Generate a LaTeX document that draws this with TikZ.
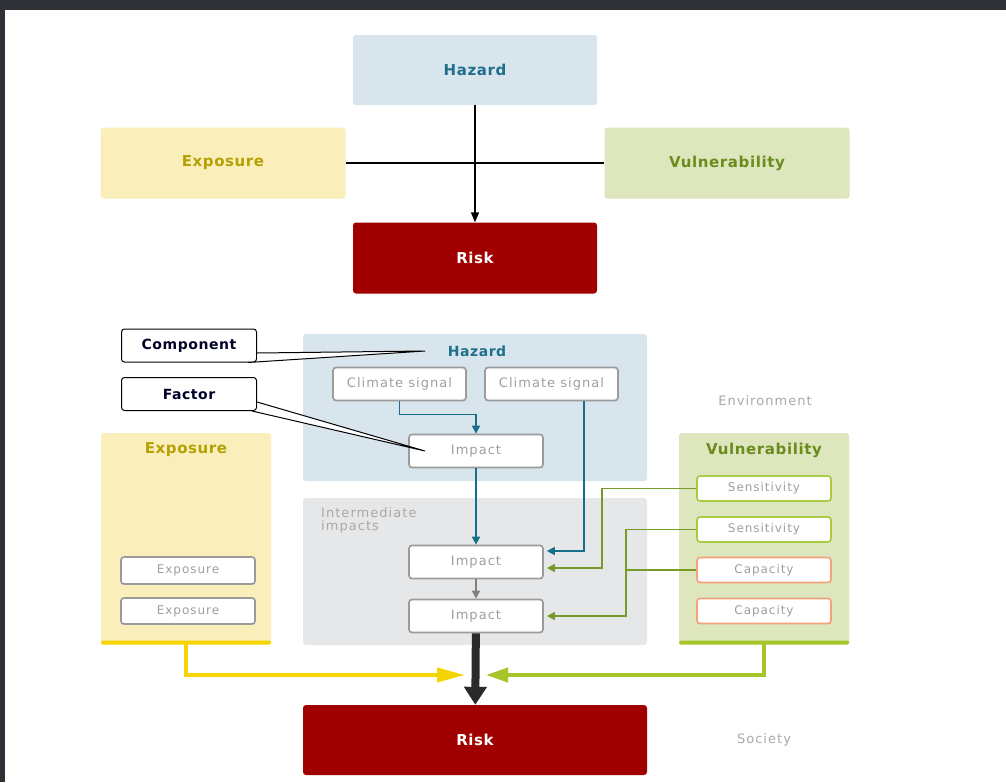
\documentclass[tikz,border=0pt]{standalone}
\usepackage{fontspec}
\usepackage{tikz}
\setmainfont{DejaVu Sans}
\newfontfamily\headfont[LetterSpace=4]{DejaVu Sans}
\newfontfamily\labfont[LetterSpace=8]{DejaVu Sans}
\usetikzlibrary{arrows.meta}
\usetikzlibrary{positioning}
\definecolor{framegray}{HTML}{2F3337}
\definecolor{hazfill}{HTML}{D9E5EC}
\definecolor{haztext}{HTML}{1F6E8C}
\definecolor{tealline}{HTML}{16708A}
\definecolor{expfill}{HTML}{FAEFBB}
\definecolor{exptext}{HTML}{B5A004}
\definecolor{expline}{HTML}{F5D400}
\definecolor{vulfill}{HTML}{DDE6BD}
\definecolor{vultext}{HTML}{6B8B1D}
\definecolor{vulline}{HTML}{A6C52B}
\definecolor{olive}{HTML}{789B25}
\definecolor{sensline}{HTML}{A9CB45}
\definecolor{capline}{HTML}{F3A27C}
\definecolor{riskfill}{HTML}{A10000}
\definecolor{intfill}{HTML}{E6E7E8}
\definecolor{boxgray}{HTML}{9B9B9B}
\definecolor{labgray}{HTML}{A39E9E}
\definecolor{darkarrow}{HTML}{2A2A2A}
\newcommand{\headtext}{\headfont\bfseries\fontsize{15}{17}\selectfont}
\newcommand{\labtext}{\labfont\fontsize{13}{15}\selectfont}
\newcommand{\smalltext}{\labfont\fontsize{12}{14}\selectfont}
\tikzset{bigbox/.style = {rounded corners = 3pt, inner sep = 0, minimum width = 244pt, minimum height = 70pt, font = \headtext}}
\tikzset{panel/.style = {rounded corners = 3pt, inner sep = 0}}
\tikzset{factor/.style = {draw = boxgray, line width = 1.7pt, fill = white, rounded corners = 3pt, inner sep = 0, minimum width = 134pt, minimum height = 33pt, text = labgray, font = \labtext}}
\tikzset{subfactor/.style = {factor, minimum height = 25pt, font = \smalltext}}
\tikzset{callout/.style = {draw = black, line width = 1pt, fill = white, rounded corners = 3pt, inner sep = 0, minimum width = 135pt, minimum height = 33pt, text = black!85!blue, font = \headfont\bfseries\fontsize{14}{16}\selectfont}}
\tikzset{tealarr/.style = {draw = tealline, line width = 1.7pt, -{Triangle[length = 8pt, width = 8pt]}}}
\tikzset{grnarr/.style = {draw = olive, line width = 1.6pt, -{Triangle[length = 8pt, width = 8pt]}}}

\begin{document}
\begin{tikzpicture}[x = 1pt, y = -1pt]
  \useasboundingbox (0, 0) rectangle (1006, 782);
  \fill[white] (0, 0) rectangle (1006, 782);
  \fill[framegray] (0, 0) rectangle (1006, 10);
  \fill[framegray] (0, 0) rectangle (5, 782);

  \node[bigbox, fill = hazfill, text = haztext] (hazTop) at (475, 70) {Hazard};
  \node[bigbox, fill = expfill, text = exptext, minimum width = 245pt, minimum height = 71pt] (expTop) at (223, 163) {Exposure};
  \node[bigbox, fill = vulfill, text = vultext, minimum width = 245pt, minimum height = 71pt] (vulTop) at (727, 163) {Vulnerability};
  \node[bigbox, fill = riskfill, text = white, minimum height = 71pt] (riskTop) at (475, 258) {Risk};
  \draw[line width = 1.5pt] (expTop.east) -- (vulTop.west);
  \draw[line width = 1.5pt, -{Triangle[length = 10pt, width = 8pt]}] (hazTop) -- (riskTop);

  \node[panel, fill = hazfill, minimum width = 344pt, minimum height = 147pt] (hazPanel) at (475, 407.5) {};
  \node[font = \headfont\bfseries\fontsize{14}{16}\selectfont, text = haztext] (hazTitle) at (477, 351) {Hazard};
  \node[factor, minimum width = 133pt] (clim1) at (399.5, 384) {Climate signal};
  \node[factor, minimum width = 133pt] (clim2) at (551.5, 384) {Climate signal};
  \node[factor] (imp1) at (476, 451) {Impact};

  \node[panel, fill = intfill, minimum width = 344pt, minimum height = 147pt] (intPanel) at (475, 571.5) {};
  \node[anchor = north west, align = left, inner sep = 0, text = labgray!90, font = \labfont\fontsize{13}{13}\selectfont] (intTitle) at (321, 507) {Intermediate\\impacts};
  \node[factor] (imp2) at (476, 562) {Impact};
  \node[factor] (imp3) at (476, 616) {Impact};

  \node[panel, fill = expfill, minimum width = 170pt, minimum height = 211pt] (expPanel) at (186, 538.5) {};
  \fill[expline, rounded corners = 1.5pt] (101, 640.5) rectangle (271, 644.5);
  \node[font = \headtext, text = exptext] (expTitle) at (186, 450) {Exposure};
  \node[subfactor, minimum height = 27pt] (exp1) at (188, 570.5) {Exposure};
  \node[subfactor, minimum height = 26pt] (exp2) at (188, 611) {Exposure};

  \node[panel, fill = vulfill, minimum width = 170pt, minimum height = 211pt] (vulPanel) at (764, 538.5) {};
  \fill[vulline, rounded corners = 1.5pt] (679, 640.5) rectangle (849, 644.5);
  \node[font = \headtext, text = vultext] (vulTitle) at (764, 450) {Vulnerability};
  \node[subfactor, draw = sensline] (sens1) at (764, 488.5) {Sensitivity};
  \node[subfactor, draw = sensline] (sens2) at (764, 529.5) {Sensitivity};
  \node[subfactor, draw = capline] (cap1) at (764, 570) {Capacity};
  \node[subfactor, draw = capline] (cap2) at (764, 611) {Capacity};

  \node[font = \labtext, text = labgray!90] (env) at (765, 401) {Environment};
  \node[bigbox, fill = riskfill, text = white, minimum width = 344pt] (riskBot) at (475, 740) {Risk};
  \node[font = \labtext, text = labgray!90] (soc) at (764, 740) {Society};

  \draw[tealarr] (clim1.south) -- ++(0, 13) -| (imp1.north);
  \draw[tealarr] (imp1) -- (imp2);
  \draw[tealarr, shorten > = 3pt] ([xshift = 32.5pt]clim2.south) |- ([yshift = 11pt]imp2.east);
  \draw[draw = gray, line width = 1.7pt, -{Triangle[length = 8pt, width = 8pt]}] (imp2) -- (imp3);
  \draw[grnarr, shorten > = 3pt] (sens1.west) -- ++(-94, 0) |- ([yshift = -6pt]imp2.east);
  \draw[grnarr, shorten > = 3pt] (sens2.west) -- ++(-70, 0) |- (imp3.east);
  \draw[draw = olive, line width = 1.6pt] (cap1.west) -- ++(-70, 0);

  \coordinate (meetL) at (465, 675);
  \coordinate (meetR) at (486, 675);
  \draw[draw = expline, line width = 4pt, -{Triangle[length = 28pt, width = 14pt]}] (expPanel.south) |- (meetL);
  \draw[draw = vulline, line width = 4pt, -{Triangle[length = 22pt, width = 14pt]}] (vulPanel.south) |- (meetR);
  \draw[draw = darkarrow, line width = 8pt, -{Triangle[length = 18pt, width = 22pt]}] (imp3) -- (riskBot);

  \node[callout] (comp) at (189, 345.5) {Component};
  \coordinate (compTip) at (425, 351);
  \fill[white] ([yshift = -7.5pt]comp.east) -- (compTip) -- ([xshift = -9pt]comp.south east) -- ([xshift = 1pt, yshift = -1pt]comp.south east) -- cycle;
  \draw[line width = 1pt] ([yshift = -7.5pt]comp.east) -- (compTip) -- ([xshift = -9pt]comp.south east);
  \node[callout] (fac) at (189, 394) {Factor};
  \coordinate (facTip) at (425, 451);
  \fill[white] ([yshift = -8pt]fac.east) -- (facTip) -- ([xshift = -5pt]fac.south east) -- ([xshift = 1pt, yshift = -1pt]fac.south east) -- cycle;
  \draw[line width = 1pt] ([yshift = -8pt]fac.east) -- (facTip) -- ([xshift = -5pt]fac.south east);
\end{tikzpicture}
\end{document}
